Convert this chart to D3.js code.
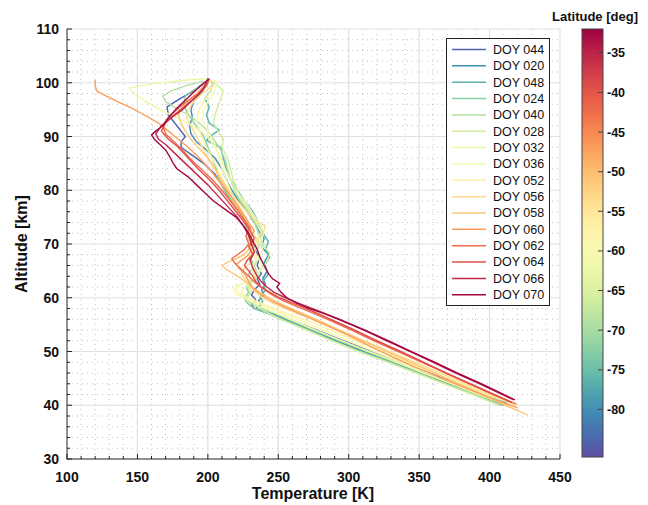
<!DOCTYPE html>
<html><head><meta charset="utf-8">
<script src="https://cdn.jsdelivr.net/npm/d3@7"></script>
<style>body{margin:0;background:#fff;} text{font-family:"Liberation Sans",Arial,sans-serif;}</style>
</head><body>
<svg id="c" width="648" height="505"></svg>
<script>
// ---- data ----
const doys = ["044","020","048","024","040","028","032","036","052","056","058","060","062","064","066","070"];
const latitudes = [-84,-80,-76.5,-72.5,-69,-66,-62.5,-60,-57,-53.5,-51,-47,-42.5,-39.5,-35.5,-32.5];
const xTicks = [100,150,200,250,300,350,400,450];
const yTicks = [30,40,50,60,70,80,90,100,110];
const cbTicks = [-35,-40,-45,-50,-55,-60,-65,-70,-75,-80];
const latRange = [-86, -32];
// each profile: [altitude km, temperature K]
const p044 = [[40.5,413],[42,398],[44,378],[46,357],[48,337],[50,316],[52,296],[54,277],[56,257],[57,246],[57.6,238],[58,233],[58.8,231],[59.6,234],[60.5,231],[61.5,233],[62.5,237],[63.5,235],[64.5,238],[66,235],[67.5,237],[69,233],[70.5,236],[72,232],[73.5,229],[75,226],[77,219],[79,214],[81,210],[83,205],[85,197],[86.5,189],[88,181],[89,181],[90,184],[92,178],[94,172],[95.5,171],[97,180],[98.5,190],[100.3,199]];
const p020 = [[40,410],[42,391],[44,371],[46,350],[48,330],[50,310],[52,291],[54,273],[56,254],[57,244],[57.6,237],[58,234],[58.7,238],[59.5,236],[60.5,240],[61.5,238],[62.5,241],[63.5,239],[65,242],[66.5,240],[68,243],[69.5,238],[71,240],[72.5,236],[74,233],[76,228],[78,222],[80,217],[82,213],[84,210],[86,205],[87.5,199],[89,192],[90.5,188],[92,187],[93.5,189],[95,188],[96.5,190],[98,195],[99.5,199],[100.8,201]];
const p048 = [[40.3,412],[42,394],[44,374],[46,353],[48,332],[50,312],[52,293],[54,274],[56,256],[57,246],[57.8,238],[58.5,236],[59.3,239],[60.2,237],[61.5,241],[63,239],[64.5,243],[66,240],[67.5,244],[69,241],[70.5,243],[72,239],[74,236],[76,232],[78,226],[80,221],[82,216],[84,213],[86,211],[88,209],[89.3,199],[90.3,203],[91.2,208],[92.5,201],[94,199],[95.5,201],[97,198],[98.5,202],[100.2,203]];
const p024 = [[40,408],[42,389],[44,369],[46,349],[48,329],[50,308],[52,289],[54,271],[56,252],[57,243],[57.8,235],[58.5,230],[59.3,227],[60,226],[61,229],[62,227],[63,231],[64.5,229],[66,233],[67.5,230],[69,234],[70.5,231],[72,229],[74,226],[76,222],[78,217],[80,212],[82,208],[84,206],[86,203],[88,200],[90,197],[91.5,193],[93,189],[94.5,185],[96,183],[97.5,184],[98.5,189],[99.5,196],[100.5,200]];
const p040 = [[40.5,414],[42,396],[44,376],[46,355],[48,334],[50,314],[52,294],[54,276],[56,258],[57,249],[57.8,241],[58.5,234],[59.2,229],[60,227],[60.8,230],[61.8,228],[63,232],[64.5,235],[66,233],[67.5,237],[69,235],[70.5,238],[72,236],[74,233],[76,229],[78,223],[80,219],[82,216],[84,214],[86,212],[88,208],[89.5,204],[91,200],[92.5,194],[94,186],[95.5,176],[96.5,170],[97.5,168],[98.5,174],[99.5,185],[100.3,197]];
const p028 = [[40,407],[42,388],[44,368],[46,348],[48,328],[50,307],[52,288],[54,270],[56,252],[57,244],[58,237],[58.8,233],[59.5,230],[60.3,228],[61.2,231],[62.2,229],[63.2,233],[64.5,236],[66,240],[67.3,243],[68.3,244],[69.5,240],[71,237],[72.5,238],[74,234],[76,230],[78,224],[80,221],[82,218],[84,216],[86,214],[88,210],[89.5,211],[91,207],[92.5,204],[94,205],[95.5,207],[97,209],[98.5,211],[99.5,207],[100.5,202]];
const p032 = [[40.2,410],[42,392],[44,373],[46,353],[48,334],[50,314],[52,295],[54,276],[56,258],[57.5,245],[58.5,236],[59.5,230],[60.5,226],[61.3,224],[62,227],[63,232],[64.5,236],[66,238],[67.5,236],[69,239],[70.5,237],[72,240],[74,236],[76,231],[78,226],[80,220],[82,216],[84,212],[86,209],[88,205],[90,200],[91.5,192],[93,182],[94,174],[95,166],[96.2,158],[97.7,149],[99,144],[99.8,160],[100.5,185],[100.8,200]];
const p036 = [[40,412],[42,394],[44,375],[46,356],[48,337],[50,318],[52,300],[54,282],[55.5,268],[56.5,258],[57.5,249],[58.5,240],[59.3,232],[60,225],[60.7,220],[61.4,218],[62.2,220],[62.8,226],[63.5,231],[64.5,234],[66,232],[67.5,235],[69,233],[70.5,236],[72,233],[74,229],[76,225],[78,220],[80,216],[82,213],[84,210],[86,208],[88,206],[90,202],[92,198],[93.5,196],[95,197],[96.5,200],[98,204],[99.5,206],[100.5,203]];
const p052 = [[40.5,415],[42,398],[44,380],[46,361],[48,342],[50,323],[52,305],[54,287],[55.5,273],[56.5,262],[57.5,252],[58.5,243],[59.3,235],[60,228],[60.8,222],[61.6,220],[62.4,223],[63.2,229],[64,233],[65.5,231],[67,234],[68.5,232],[70,235],[71.5,233],[73,230],[75,226],[77,221],[79,216],[81,212],[83,209],[85,205],[87,201],[89,197],[91,194],[93,192],[95,194],[96.5,197],[98,201],[99.5,203],[100.5,201]];
const p056 = [[40,418],[42,401],[44,383],[46,365],[48,347],[50,329],[52,311],[54,293],[55.5,279],[57,264],[58.5,250],[59.5,242],[60.5,236],[61.5,232],[62.5,229],[63.5,226],[64.5,224],[65.5,226],[66.5,230],[67.5,229],[68.5,232],[69.5,230],[70.5,233],[71.5,237],[72.5,240],[73.3,241],[74,236],[75,231],[76.5,226],[78,221],[80,215],[82,210],[84,205],[86,200],[88,196],[90,192],[92,188],[93.5,185],[95,186],[96.5,190],[98,196],[99.5,204],[100.5,205]];
const p058 = [[38.2,427],[40,411],[42,395],[44,378],[46,361],[48,344],[50,327],[52,310],[54,293],[55.5,281],[57,268],[58.5,255],[59.5,247],[60.5,240],[61.5,234],[62.5,229],[63.5,224],[64.5,218],[65.3,213],[66,210],[66.6,214],[67.3,220],[68,226],[69,229],[70,231],[71,228],[72.5,231],[74,227],[76,223],[78,218],[80,214],[82,209],[84,205],[86,200],[88,193],[89.5,188],[91,184],[92.5,181],[94,179],[95.5,182],[97,188],[98.5,194],[100,199]];
const p060 = [[39.5,420],[41,404],[43,385],[45,366],[47,348],[49,331],[51,315],[53,300],[55,283],[56.5,270],[58,257],[59.3,246],[60.5,238],[61.5,233],[62.5,230],[63.5,228],[64.5,226],[65.5,222],[66.2,220],[67,224],[68,229],[69.5,232],[71,230],[72.5,233],[74,229],[76,224],[78,219],[80,213],[82,207],[84,201],[86,194],[88,186],[89.5,179],[91,172],[92.5,165],[94,155],[95.3,146],[96.5,136],[97.5,128],[98.5,121],[99.5,120],[100.5,120]];
const p062 = [[40.2,419],[42,403],[44,386],[46,369],[48,352],[50,335],[52,318],[54,302],[55.5,289],[57,276],[58.5,262],[59.5,253],[60.5,246],[61.5,240],[62.5,235],[63.5,231],[64.5,227],[65.5,223],[66.5,219],[67.3,217],[68,221],[69,226],[70,229],[71.5,227],[73,230],[74.5,226],[76,222],[78,216],[80,210],[82,203],[84,195],[86,187],[87.5,182],[89,176],[90.5,170],[92,168],[93.5,172],[95,178],[96.5,185],[98,193],[99.5,199],[100.6,201]];
const p064 = [[40.5,416],[42,403],[44,386],[46,369],[48,353],[50,337],[52,320],[54,304],[56,287],[57.5,274],[58.8,262],[60,251],[61,244],[62,238],[63,234],[64,232],[65,229],[66,226],[67,228],[68,232],[69.5,229],[71,233],[72.5,230],[74,226],[76,220],[78,214],[80,208],[82,201],[84,193],[86,186],[88,179],[89.5,172],[91,167],[92.5,170],[94,176],[95.5,183],[97,190],[98.5,196],[100,200]];
const p066 = [[41,417],[42.5,405],[44,393],[46,376],[48,360],[50,344],[52,327],[54,311],[56,293],[57.5,279],[58.8,266],[60,255],[61,247],[62,242],[63,238],[64,235],[65.5,232],[67,230],[68.5,233],[70,231],[71.5,229],[73,226],[75,221],[77,214],[79,207],[81,200],[83,192],[85,184],[87,176],[88.5,170],[89.5,165],[90.5,163],[92,167],[93.5,174],[95,182],[96.5,188],[98,194],[99.5,198],[100.8,200]];
const p070 = [[41,418],[42,410],[44,394],[46,377],[48,361],[50,344],[52,328],[54,311],[55,302],[56,293],[57,283],[58,272],[59,263],[60,256],[61,252],[62,249],[62.7,251],[63.5,246],[64.5,243],[66,240],[67.5,237],[69,235],[70.5,232],[72,229],[73.5,225],[75,220],[76.5,212],[78,204],[79.5,198],[81,192],[82.5,186],[84,178],[85.2,175],[86.2,173],[87.5,170],[88.5,166],[89.5,162],[90.3,160],[91,163],[92,168],[93.5,172],[95,177],[96.5,183],[98,189],[99.5,195],[100.7,201]];
const profiles = [p044,p020,p048,p024,p040,p028,p032,p036,p052,p056,p058,p060,p062,p064,p066,p070];

// ---- layout ----
const svg = d3.select("#c");
const X0=67, X1=560, Y0=29, Y1=459;
const x = d3.scaleLinear().domain([100,450]).range([X0,X1]);
const y = d3.scaleLinear().domain([30,110]).range([Y1,Y0]);
const cScale = d3.scaleLinear().domain(latRange).range([1,0]);
const color = lat => d3.interpolateSpectral(cScale(lat));

// minor grid
const g = svg.append("g");
const xMinor = d3.range(110,450,10).filter(v=>v%50!==0);
const yMinor = d3.range(32,110,2).filter(v=>v%10!==0);
g.selectAll(".xm").data(xMinor).join("line").attr("x1",d=>x(d)).attr("x2",d=>x(d)).attr("y1",Y0).attr("y2",Y1)
 .attr("stroke","#c0c0c0").attr("stroke-width",1).attr("stroke-dasharray","1,4");
g.selectAll(".ym").data(yMinor).join("line").attr("y1",d=>y(d)).attr("y2",d=>y(d)).attr("x1",X0).attr("x2",X1)
 .attr("stroke","#c0c0c0").attr("stroke-width",1).attr("stroke-dasharray","1,4");
// major grid
g.selectAll(".xg").data(xTicks.slice(1)).join("line").attr("x1",d=>x(d)).attr("x2",d=>x(d)).attr("y1",Y0).attr("y2",Y1)
 .attr("stroke","#e0e0e0").attr("stroke-width",1.2);
g.selectAll(".yg").data(yTicks.slice(1)).join("line").attr("y1",d=>y(d)).attr("y2",d=>y(d)).attr("x1",X0).attr("x2",X1)
 .attr("stroke","#e0e0e0").attr("stroke-width",1.2);

// profiles
const line = d3.line().x(d=>x(d[1])).y(d=>y(d[0])).curve(d3.curveLinear);
svg.append("g").selectAll("path").data(profiles).join("path")
  .attr("d",line).attr("fill","none")
  .attr("stroke",(d,i)=>color(latitudes[i])).attr("stroke-width",1.4).attr("stroke-linejoin","round");

// axes
const ax = svg.append("g").attr("stroke","#222");
ax.append("line").attr("x1",X0).attr("x2",X0).attr("y1",Y0).attr("y2",Y1+0.5);
ax.append("line").attr("x1",X0).attr("x2",X1).attr("y1",Y1).attr("y2",Y1);
ax.selectAll(".xt").data(xTicks).join("line").attr("x1",d=>x(d)).attr("x2",d=>x(d)).attr("y1",Y1).attr("y2",Y1-5);
ax.selectAll(".xmt").data(xMinor).join("line").attr("x1",d=>x(d)).attr("x2",d=>x(d)).attr("y1",Y1).attr("y2",Y1-3);
ax.selectAll(".yt").data(yTicks).join("line").attr("y1",d=>y(d)).attr("y2",d=>y(d)).attr("x1",X0).attr("x2",X0+5);
ax.selectAll(".ymt").data(yMinor).join("line").attr("y1",d=>y(d)).attr("y2",d=>y(d)).attr("x1",X0).attr("x2",X0+3);

svg.append("g").selectAll("text").data(xTicks).join("text")
  .attr("x",d=>x(d)).attr("y",482).attr("text-anchor","middle")
  .attr("font-size",14).attr("font-weight","bold").attr("fill","#111").text(d=>d);
svg.append("g").selectAll("text").data(yTicks).join("text")
  .attr("x",59).attr("y",d=>y(d)+5).attr("text-anchor","end")
  .attr("font-size",14).attr("font-weight","bold").attr("fill","#111").text(d=>d);
svg.append("text").attr("x",313).attr("y",499).attr("text-anchor","middle")
  .attr("font-size",16).attr("font-weight","bold").attr("fill","#111").text("Temperature [K]");
svg.append("text").attr("transform","translate(27,244) rotate(-90)").attr("text-anchor","middle")
  .attr("font-size",16).attr("font-weight","bold").attr("fill","#111").text("Altitude [km]");

// legend
const LX=446, LY=38, LW=103, LH=267;
const lg = svg.append("g");
lg.append("rect").attr("x",LX+0.5).attr("y",LY+0.5).attr("width",LW).attr("height",LH)
  .attr("fill","#fff").attr("stroke","#222").attr("stroke-width",1);
doys.forEach((dname,i)=>{
  const yy = LY + 11.5 + i*16.35;
  lg.append("line").attr("x1",LX+6).attr("x2",LX+40).attr("y1",yy).attr("y2",yy)
    .attr("stroke",color(latitudes[i])).attr("stroke-width",1.5);
  lg.append("text").attr("x",LX+47).attr("y",yy+4.3).attr("font-size",12.5).attr("fill","#111").text("DOY "+dname);
});

// colorbar
const CX=582, CW=21, CY0=29, CY1=457;
const cb = d3.scaleLinear().domain(latRange).range([CY1,CY0]);
const defs = svg.append("defs");
const grad = defs.append("linearGradient").attr("id","cbg").attr("x1",0).attr("x2",0).attr("y1",1).attr("y2",0);
d3.range(0,1.0001,0.05).forEach(t=>{
  grad.append("stop").attr("offset",t).attr("stop-color",d3.interpolateSpectral(1-t));
});
svg.append("rect").attr("x",CX).attr("y",CY0).attr("width",CW).attr("height",CY1-CY0)
  .attr("fill","url(#cbg)").attr("stroke","#444").attr("stroke-width",1);
svg.append("g").selectAll("line").data(cbTicks).join("line")
  .attr("x1",CX+CW-5).attr("x2",CX+CW).attr("y1",d=>cb(d)).attr("y2",d=>cb(d))
  .attr("stroke","#444").attr("stroke-width",1);
svg.append("g").selectAll("text").data(cbTicks).join("text")
  .attr("x",CX+CW+4).attr("y",d=>cb(d)+4.5).attr("font-size",12.5).attr("font-weight","bold")
  .attr("fill","#111").text(d=>d);
svg.append("text").attr("x",595).attr("y",21).attr("text-anchor","middle")
  .attr("font-size",13).attr("font-weight","bold").attr("fill","#111").text("Latitude [deg]");
</script>
</body></html>
